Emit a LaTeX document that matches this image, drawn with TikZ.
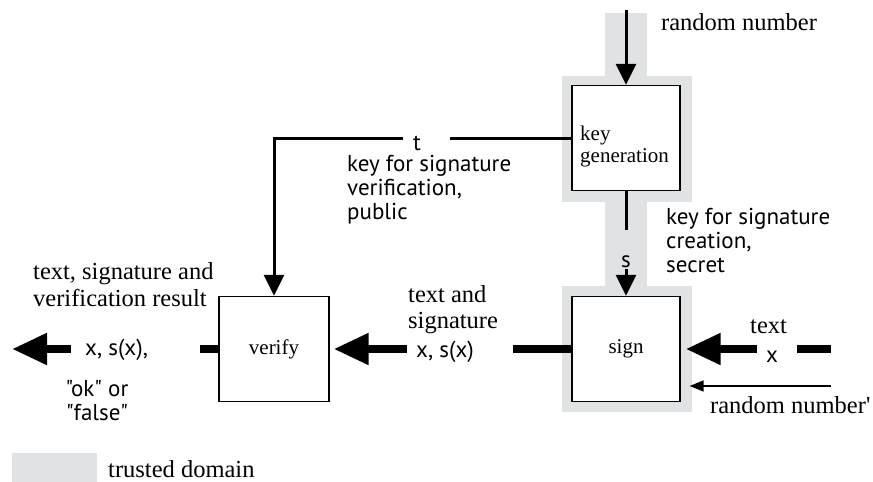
\documentclass[tikz,border=0pt]{standalone}
\usepackage{fontspec}
\setmainfont{Liberation Serif}
\newfontfamily\labelfont{PT Sans}
\usetikzlibrary{arrows.meta,positioning}
\definecolor{trustgrey}{RGB}{225,226,228}
\tikzstyle{box}=[draw,fill=white,line width=1.3pt,minimum width=108pt,minimum height=105pt,inner sep=0pt,align=left,font=\fontsize{21}{23}\selectfont]
\tikzstyle{box text}=[inner sep=0pt,align=left,font=\fontsize{21}{22}\selectfont]
\tikzstyle{serif text}=[inner sep=0pt,align=left,font=\fontsize{24.5}{26}\selectfont]
\tikzstyle{sans text}=[inner sep=0pt,align=left,font=\labelfont\fontsize{23}{24}\selectfont]
\tikzstyle{trusted}=[fill=trustgrey]
\tikzstyle{dataflow}=[line width=8pt,-{Triangle[length=35pt,width=30pt]}]
\tikzstyle{flow stub}=[line width=8pt]
\tikzstyle{keyline}=[line width=3pt,-{Triangle[length=21pt,width=20pt]}]
\tikzstyle{thin arrow}=[line width=1.5pt,-{Triangle[length=14pt,width=11pt]}]

\begin{document}
\begin{tikzpicture}[x=1pt,y=-1pt]
    \useasboundingbox (0,0) rectangle (873,482);
    % trusted domain behind everything
    \fill[trusted] (605,13) rectangle (647,290);
    \fill[trusted] (562,76) rectangle (692,202);
    \fill[trusted] (562,286) rectangle (692,412);
    \fill[trusted] (12,453) rectangle (97,482);
    \node[serif text,anchor=base west] (legend) at (108,477) {trusted domain};

    % the three boxes (base anchor of a multi-line node = its last line)
    \node[box] (keygen) at (626,138) {};
    \node[box text,anchor=base west] (keygenlbl) at (580,162) {key\\generation};
    \node[box] (sign) at (626,349) {sign};
    \node[box,minimum width=110pt] (verify) at (274,349) {verify};

    % key generation
    \coordinate (rndtop) at (626,10);
    \draw[keyline] (rndtop) -- (keygen.north);
    \node[serif text,anchor=base west] (rndlbl) at (661,30) {random number};

    % secret key s
    \coordinate (sabove) at (626,230);
    \coordinate (sbelow) at (626,269);
    \draw[line width=3pt] (keygen.south) -- (sabove);
    \node[sans text,anchor=base] (slbl) at (626,267) {s};
    \draw[keyline] (sbelow) -- (sign.north);
    \node[sans text,anchor=base west] (slong) at (666,272) {key for signature\\creation,\\secret};

    % public key t
    \coordinate (tright) at (450,138);
    \coordinate (tleft) at (403,138);
    \draw[line width=3pt] (keygen.west) -- (tright);
    \draw[keyline] (tleft) -| (verify.north);
    \node[sans text,anchor=base] (tlbl) at (417,150) {t};
    \node[sans text,anchor=base west] (tlong) at (347,219) {key for signature\\verification,\\public};

    % text into sign
    \coordinate (xin) at (831,349);
    \coordinate (xgap) at (797,349);
    \coordinate (xhead) at (757,349);
    \draw[flow stub] (xin) -- (xgap);
    \node[sans text,anchor=base] (xlbl) at (772,362) {x};
    \draw[dataflow,shorten >=5pt] (xhead) -- (sign.east);
    \node[serif text,anchor=base west] (textlbl) at (750,333) {text};

    % random number'
    \coordinate (rnd2) at (831,386);
    \draw[thin arrow,shorten >=9pt] (rnd2) -- (sign.east |- rnd2);
    \node[serif text,anchor=base west] (rnd2lbl) at (710,413) {random number\textquotesingle};

    % sign to verify
    \coordinate (midr) at (513,349);
    \coordinate (midl) at (407,349);
    \draw[flow stub] (sign.west) -- (midr);
    \node[sans text,anchor=base] (xsx) at (445,357) {x, s(x)};
    \draw[dataflow,shorten >=4pt] (midl) -- (verify.east);
    \node[serif text,anchor=base west] (tslbl) at (408,328) {text and\\signature};

    % verify output
    \coordinate (outgap) at (200,349);
    \coordinate (outtail) at (71,349);
    \coordinate (outtip) at (12,349);
    \draw[flow stub] (verify.west) -- (outgap);
    \draw[dataflow] (outtail) -- (outtip);
    \node[sans text,anchor=base west] (outx) at (85,355) {x, s(x),};
    \node[sans text,anchor=base,align=center] (outok) at (97,420) {"ok" or\\"false"};
    \node[serif text,anchor=base west,font=\fontsize{24.5}{27}\selectfont] (outlbl) at (33,306) {text, signature and\\verification result};
\end{tikzpicture}
\end{document}
